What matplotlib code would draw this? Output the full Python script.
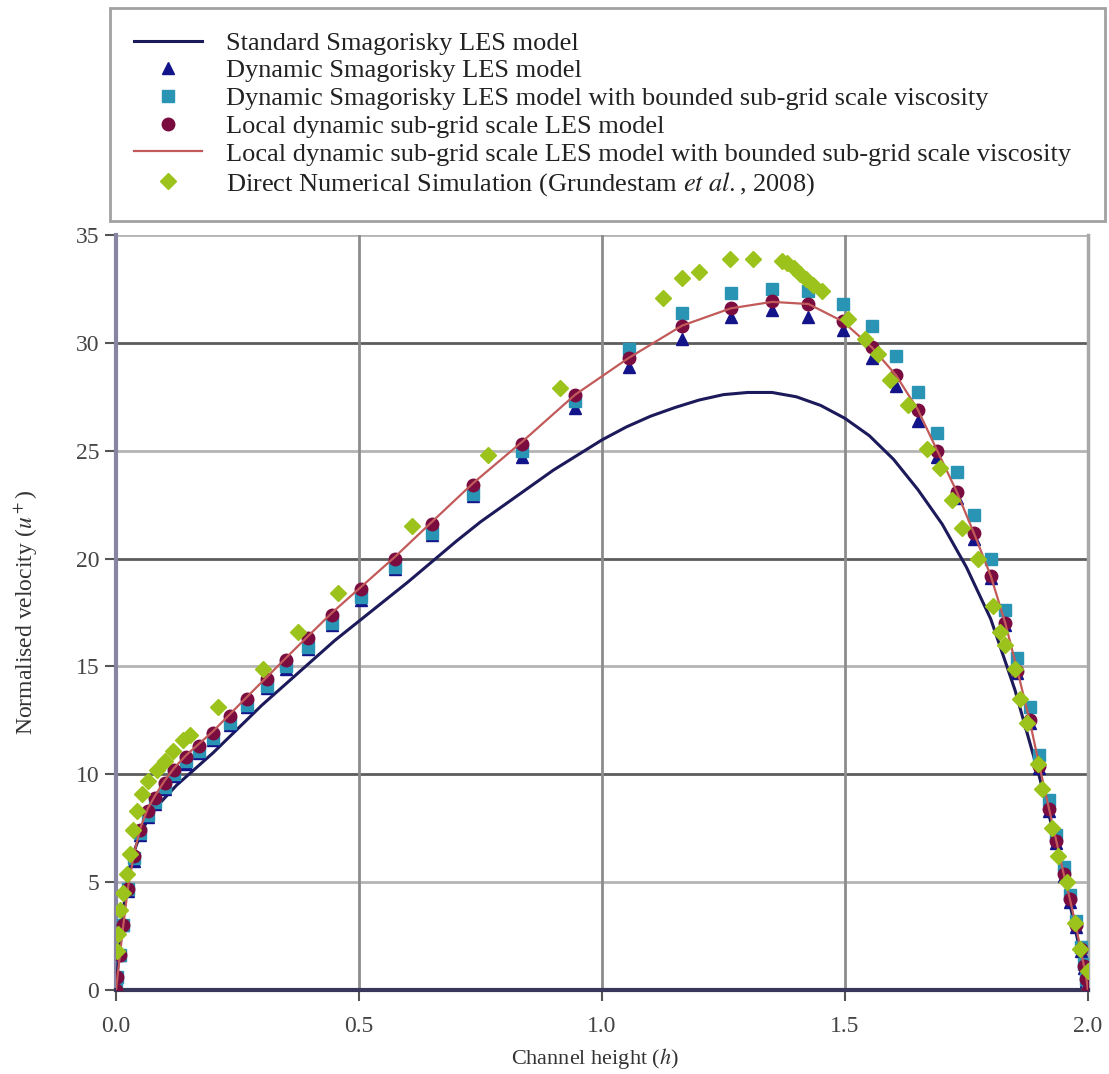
import matplotlib
matplotlib.use("Agg")
import matplotlib.pyplot as plt

plt.rcParams['font.family'] = ['Liberation Serif', 'DejaVu Serif']
plt.rcParams['mathtext.fontset'] = 'stix'

# LES grid (channel height h)
x_les = [0.0, 0.003, 0.008, 0.015, 0.025, 0.037, 0.05, 0.065, 0.08, 0.10, 0.12, 0.145, 0.17,
         0.20, 0.235, 0.27, 0.31, 0.35, 0.395, 0.445, 0.505, 0.575, 0.65, 0.735, 0.835, 0.945,
         1.055, 1.165, 1.265, 1.35, 1.425, 1.495, 1.555, 1.605, 1.65, 1.69, 1.73, 1.765, 1.80,
         1.83, 1.855, 1.88, 1.90, 1.92, 1.935, 1.95, 1.963, 1.975, 1.985, 1.992, 1.997, 2.0]

# Dynamic Smagorinsky (triangles)
u_dyn = [0, 0.6, 1.6, 3.0, 4.6, 6.0, 7.2, 8.0, 8.6, 9.3, 9.9, 10.5, 11.0,
         11.6, 12.3, 13.1, 14.0, 14.9, 15.8, 16.9, 18.1, 19.5, 21.1, 22.9, 24.7, 27.0,
         28.9, 30.2, 31.2, 31.5, 31.2, 30.6, 29.3, 28.0, 26.4, 24.7, 22.8, 20.9, 19.1,
         16.9, 14.7, 12.4, 10.3, 8.3, 6.8, 5.3, 4.1, 2.9, 1.8, 1.0, 0.4, 0.0]

# Dynamic Smagorinsky bounded (squares)
u_dyn_b = [0, 0.6, 1.6, 3.0, 4.7, 6.1, 7.3, 8.1, 8.7, 9.4, 10.0, 10.6, 11.1,
           11.7, 12.4, 13.2, 14.1, 15.0, 15.9, 17.0, 18.2, 19.6, 21.2, 23.0, 25.0, 27.3,
           29.7, 31.4, 32.3, 32.5, 32.4, 31.8, 30.8, 29.4, 27.7, 25.8, 24.0, 22.0, 20.0,
           17.6, 15.4, 13.1, 10.9, 8.8, 7.2, 5.7, 4.4, 3.2, 2.0, 1.2, 0.5, 0.0]

# Local dynamic sub-grid scale (circles)
u_ldyn = [0, 0.6, 1.6, 3.0, 4.7, 6.2, 7.4, 8.3, 8.9, 9.6, 10.2, 10.8, 11.3,
          11.9, 12.7, 13.5, 14.4, 15.3, 16.3, 17.4, 18.6, 20.0, 21.6, 23.4, 25.3, 27.6,
          29.3, 30.8, 31.6, 31.95, 31.8, 31.0, 29.8, 28.5, 26.9, 25.0, 23.1, 21.2, 19.2,
          17.0, 14.8, 12.5, 10.4, 8.4, 6.9, 5.4, 4.2, 3.0, 1.9, 1.1, 0.5, 0.0]

# Local dynamic bounded (red line)
u_ldyn_b = [0, 0.6, 1.6, 3.0, 4.8, 6.3, 7.5, 8.4, 9.0, 9.7, 10.3, 10.9, 11.4,
            12.0, 12.8, 13.6, 14.5, 15.4, 16.4, 17.5, 18.7, 20.1, 21.7, 23.5, 25.4, 27.6,
            29.3, 30.8, 31.6, 31.9, 31.8, 31.0, 29.8, 28.5, 26.9, 25.0, 23.1, 21.2, 19.2,
            17.0, 14.8, 12.5, 10.4, 8.4, 6.9, 5.4, 4.2, 3.0, 1.9, 1.1, 0.5, 0.0]

# Standard Smagorinsky (navy line)
x_std = [0.0, 0.005, 0.01, 0.02, 0.03, 0.04, 0.05, 0.065, 0.08, 0.1, 0.125, 0.15, 0.175,
         0.2, 0.25, 0.3, 0.35, 0.4, 0.45, 0.5, 0.55, 0.6, 0.65, 0.7, 0.75, 0.8, 0.85, 0.9,
         0.95, 1.0, 1.05, 1.1, 1.15, 1.2, 1.25, 1.3, 1.35, 1.4, 1.45, 1.5, 1.55, 1.6, 1.65,
         1.7, 1.75, 1.8, 1.85, 1.9, 1.93, 1.96, 1.98, 1.99, 2.0]
u_std = [0.0, 1.4, 2.7, 4.6, 5.8, 6.6, 7.2, 7.9, 8.4, 8.9, 9.5, 10.0, 10.5,
         11.0, 12.1, 13.2, 14.2, 15.2, 16.2, 17.1, 18.0, 18.9, 19.85, 20.8, 21.7, 22.5, 23.3, 24.1,
         24.8, 25.5, 26.1, 26.6, 27.0, 27.35, 27.6, 27.7, 27.7, 27.5, 27.1, 26.5, 25.7, 24.6, 23.2,
         21.6, 19.6, 17.2, 13.9, 9.9, 7.2, 4.3, 2.2, 1.1, 0.0]

# DNS (Grundestam et al., 2008)
x_dns = [0.002, 0.004, 0.008, 0.014, 0.023, 0.029, 0.035, 0.043, 0.053, 0.066, 0.084, 0.101,
         0.117, 0.138, 0.152, 0.21, 0.302, 0.374, 0.457, 0.609, 0.765, 0.914, 1.126, 1.165,
         1.20, 1.263, 1.31, 1.37, 1.38, 1.395, 1.407, 1.42, 1.434, 1.452, 1.506, 1.541, 1.568,
         1.593, 1.63, 1.669, 1.695, 1.72, 1.741, 1.774, 1.805, 1.82, 1.829, 1.85, 1.86, 1.874,
         1.897, 1.905, 1.926, 1.938, 1.957, 1.973, 1.984, 2.0]
u_dns = [1.8, 2.6, 3.7, 4.5, 5.4, 6.3, 7.4, 8.3, 9.1, 9.7, 10.2, 10.6,
         11.1, 11.6, 11.8, 13.1, 14.9, 16.6, 18.4, 21.5, 24.8, 27.9, 32.1, 33.0,
         33.3, 33.9, 33.9, 33.8, 33.7, 33.45, 33.2, 32.95, 32.7, 32.4, 31.1, 30.2, 29.5,
         28.3, 27.1, 25.1, 24.2, 22.7, 21.4, 20.0, 17.8, 16.6, 16.0, 14.9, 13.5, 12.4,
         10.5, 9.3, 7.5, 6.2, 5.0, 3.1, 1.9, 0.9]

labels = ['Standard Smagorisky LES model',
          'Dynamic Smagorisky LES model',
          'Dynamic Smagorisky LES model with bounded sub-grid scale viscosity',
          'Local dynamic sub-grid scale LES model',
          'Local dynamic sub-grid scale LES model with bounded sub-grid scale viscosity',
          r'Direct Numerical Simulation (Grundestam $et\ al.$, 2008)']

fig = plt.figure(figsize=(11.09, 10.74), dpi=100)
ax = fig.add_axes([0.1046, 0.0782, 0.8764, 0.7030])

h1, = ax.plot(x_std, u_std, color='#1c1a5a', lw=2.2, zorder=3)
h2, = ax.plot(x_les, u_dyn, ls='none', marker='^', ms=9, color='#14148a', zorder=4)
h3, = ax.plot(x_les, u_dyn_b, ls='none', marker='s', ms=8.5, color='#2a94b4', zorder=4)
h4, = ax.plot(x_les, u_ldyn, ls='none', marker='o', ms=9, color='#7a0c40', zorder=5)
h5, = ax.plot(x_les, u_ldyn_b, color='#c25a5a', lw=1.6, zorder=6)
h6, = ax.plot(x_dns, u_dns, ls='none', marker='D', ms=8, color='#9cc21c', zorder=7)

ax.set_xlim(0, 2.0)
ax.set_ylim(0, 35)
ax.set_xticks([0.0, 0.5, 1.0, 1.5, 2.0])
ax.set_xticklabels(['0.0', '0.5', '1.0', '1.5', '2.0'])
ax.set_yticks(range(0, 36, 5))

for v in [5, 15, 25, 35]:
    ax.axhline(v, color='#b4b4b4', lw=2, zorder=1)
for v in [10, 20, 30]:
    ax.axhline(v, color='#5c5c5c', lw=2, zorder=1)
for v in [0.5, 1.0, 1.5]:
    ax.axvline(v, color='#8c8c8c', lw=2, zorder=1)

ax.spines['top'].set_visible(False)
ax.spines['right'].set_color('#a8a8a8')
ax.spines['right'].set_linewidth(2.5)
ax.spines['left'].set_color('#8884a4')
ax.spines['left'].set_linewidth(3)
ax.spines['bottom'].set_color('#38365a')
ax.spines['bottom'].set_linewidth(3)

ax.tick_params(axis='both', direction='out', length=8, width=1.5, color='#555555',
               labelsize=17, labelcolor='#444444')
ax.tick_params(axis='x', pad=11)
ax.tick_params(axis='y', pad=4)

ax.set_xlabel(r'Channel height ($h$)', fontsize=16, color='#333333')
ax.xaxis.set_label_coords(0.493, -0.091)
ax.xaxis.label.set_va('center')
ax.set_ylabel(r'Normalised velocity ($u^+$)', fontsize=17, color='#333333', labelpad=26)

leg = fig.legend([h1, h2, h3, h4, h5, h6], labels, loc='upper left',
                 bbox_to_anchor=(0.099, 0.797, 0.897, 0.196), mode='expand',
                 fontsize=19, frameon=True, fancybox=False, handlelength=2.6,
                 handletextpad=0.9, labelspacing=0.16, borderpad=0.9, borderaxespad=0)
leg.get_frame().set_edgecolor('#8a8a8a')
leg.get_frame().set_linewidth(2)
for t in leg.get_texts():
    t.set_color('#222222')

fig.savefig('out.png', dpi=100)
